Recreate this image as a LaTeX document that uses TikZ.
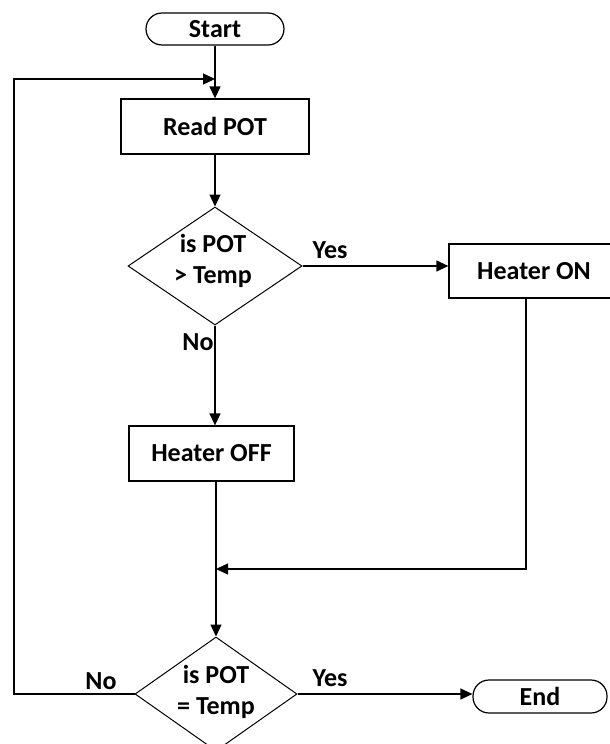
\documentclass[tikz,border=0pt]{standalone}
\usepackage{fontspec}
\setmainfont{Carlito}
\usetikzlibrary{shapes.geometric,arrows.meta}
\tikzset{
  x=1pt, y=-1pt,
  lbl/.style={font=\fontsize{26}{31}\selectfont\bfseries, text=black},
  boxnode/.style={draw, line width=1.3pt, rectangle, inner sep=0pt, lbl},
  termnode/.style={draw, line width=1.2pt, rectangle, rounded corners=16pt, inner sep=0pt, lbl},
  decnode/.style={draw, line width=1pt, diamond, inner sep=0pt},
  dectext/.style={lbl, align=center, inner sep=0pt},
  flow/.style={line width=1.3pt, -{Triangle[length=12pt,width=11pt]}},
  plain/.style={line width=1.3pt},
}
\begin{document}
\begin{tikzpicture}
\useasboundingbox (0,0) rectangle (610,744);
\clip (0,0) rectangle (610,744);
\fill[white] (0,0) rectangle (610,744);

\node[termnode, minimum width=138pt, minimum height=32pt] (start) at (215,29) {Start};
\node[boxnode, minimum width=188pt, minimum height=55pt] (read) at (215,126.5) {Read POT};
\node[decnode, minimum width=174pt, minimum height=118pt] (d1) at (215,266) {};
\node[dectext] (d1t) at (213,261) {is POT\\> Temp};
\node[boxnode, minimum width=170pt, minimum height=54pt] (hon) at (534,271) {Heater ON};
\node[boxnode, minimum width=165pt, minimum height=55pt] (hoff) at (211.5,453.5) {Heater OFF};
\node[decnode, minimum width=162pt, minimum height=114pt] (d2) at (216,694) {};
\node[dectext] (d2t) at (216,692) {is POT\\= Temp};
\node[termnode, minimum width=134pt, minimum height=33pt] (end) at (540,696.5) {End};

\coordinate (loopl) at (14,694);
\coordinate (loopt) at (14,79);
\coordinate (j1) at (215,79);
\coordinate (hx) at (526,569);
\coordinate (m) at (216,569);

% start to read
\draw[flow] (start.south) -- (read.north);
% loop back
\draw[flow] (d2.west) -- (loopl) -- (loopt) -- (j1);
% read to decision
\draw[flow] (read.south) -- (d1.north);
% yes to heater on
\draw[flow] (d1.east) -- (hon.west |- d1.east);
\node[lbl] (yes1) at (330,250) {Yes};
% no to heater off
\draw[flow] (d1.south) -- (d1.south |- hoff.north);
\node[lbl] (no1) at (198,342) {No};
% heater off to decision 2
\draw[flow] (m |- hoff.south) -- (d2.north);
% heater on to merge
\draw[flow] (hx |- hon.south) -- (hx) -- (m);
% decision 2 yes to end
\draw[flow] (d2.east) -- (end.west |- d2.east);
\node[lbl] (yes2) at (330,678) {Yes};
\node[lbl] (no2) at (101,681) {No};
\end{tikzpicture}
\end{document}
